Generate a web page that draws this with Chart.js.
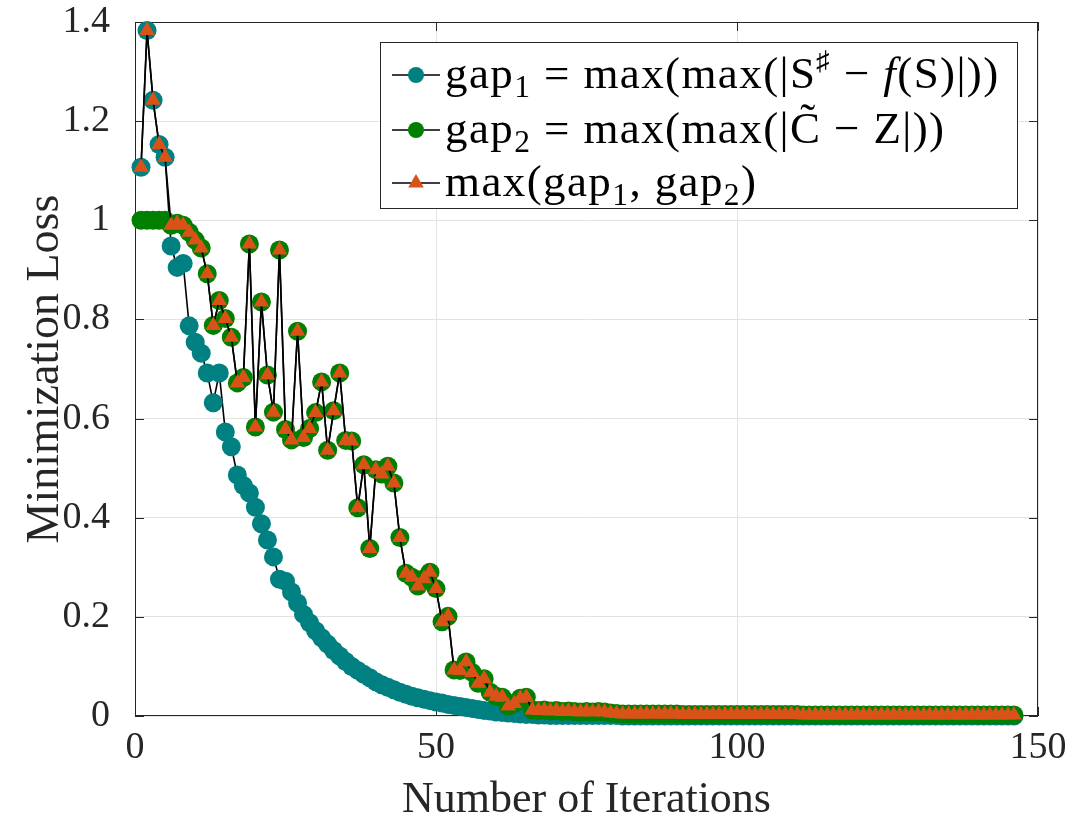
<!DOCTYPE html>
<html>
<head>
<meta charset="utf-8">
<script src="https://cdn.jsdelivr.net/npm/chart.js@4.4.1/dist/chart.umd.min.js"></script>
<style>
  body { margin: 0; background: #fff; }
  #wrap { width: 1074px; height: 827px; }
</style>
</head>
<body>
<div id="wrap"><canvas id="lossChart"></canvas></div>
<script>
// values, iterations 1..146
const gap1 = [
  1.107, 1.383, 1.242, 1.153, 1.127, 0.948, 0.905, 0.913, 0.787, 0.754,
  0.732, 0.692, 0.632, 0.692, 0.573, 0.543, 0.486, 0.465, 0.450, 0.421,
  0.388, 0.355, 0.321, 0.276, 0.272, 0.250, 0.228, 0.205, 0.188, 0.172,
  0.158, 0.145, 0.132, 0.121, 0.110, 0.100, 0.092, 0.084, 0.077, 0.069,
  0.063, 0.058, 0.053, 0.048, 0.044, 0.040, 0.037, 0.034, 0.031, 0.028,
  0.026, 0.023, 0.021, 0.019, 0.017, 0.015, 0.013, 0.011, 0.010, 0.008,
  0.007, 0.006, 0.005, 0.004, 0.003, 0.003, 0.002, 0.002, 0.001, 0.001,
  0.001, 0.001, 0.001, 0.001, 0.001, 0.001, 0.001, 0.001, 0.001, 0.001,
  0, 0, 0, 0, 0, 0, 0, 0, 0, 0,
  0, 0, 0, 0, 0, 0, 0, 0, 0, 0,
  0, 0, 0, 0, 0, 0, 0, 0, 0, 0,
  0, 0, 0, 0, 0, 0, 0, 0, 0, 0,
  0, 0, 0, 0, 0, 0, 0, 0, 0, 0,
  0, 0, 0, 0, 0, 0, 0, 0, 0, 0,
  0, 0, 0, 0, 0, 0
];

const gap2 = [
  1, 1, 1, 1, 1, 0.990, 0.994, 0.990, 0.976, 0.960,
  0.944, 0.892, 0.788, 0.838, 0.802, 0.764, 0.672, 0.683, 0.952, 0.583,
  0.835, 0.688, 0.613, 0.940, 0.578, 0.557, 0.776, 0.562, 0.580, 0.612,
  0.674, 0.536, 0.616, 0.692, 0.556, 0.555, 0.420, 0.507, 0.338, 0.497,
  0.488, 0.504, 0.470, 0.360, 0.288, 0.280, 0.262, 0.277, 0.290, 0.257,
  0.190, 0.201, 0.093, 0.092, 0.109, 0.088, 0.066, 0.075, 0.048, 0.040,
  0.038, 0.020, 0.025, 0.036, 0.038, 0.012, 0.011, 0.012, 0.010, 0.011,
  0.009, 0.010, 0.009, 0.008, 0.009, 0.008, 0.009, 0.008, 0.006, 0.005,
  0.004, 0.004, 0.004, 0.004, 0.004, 0.004, 0.004, 0.004, 0.004, 0.004,
  0.003, 0.003, 0.003, 0.003, 0.003, 0.003, 0.003, 0.003, 0.003, 0.003,
  0.003, 0.003, 0.003, 0.003, 0.003, 0.003, 0.003, 0.003, 0.003, 0.003,
  0.002, 0.002, 0.002, 0.002, 0.002, 0.002, 0.002, 0.002, 0.002, 0.002,
  0.002, 0.002, 0.002, 0.002, 0.002, 0.002, 0.002, 0.002, 0.002, 0.002,
  0.002, 0.002, 0.002, 0.002, 0.002, 0.002, 0.002, 0.002, 0.002, 0.002,
  0.002, 0.002, 0.002, 0.002, 0.002, 0.002
];

const gapMax = [
  1.107, 1.383, 1.242, 1.153, 1.127, 0.990, 0.994, 0.990, 0.976, 0.960,
  0.944, 0.892, 0.788, 0.838, 0.802, 0.764, 0.672, 0.683, 0.952, 0.583,
  0.835, 0.688, 0.613, 0.940, 0.578, 0.557, 0.776, 0.562, 0.580, 0.612,
  0.674, 0.536, 0.616, 0.692, 0.556, 0.555, 0.420, 0.507, 0.338, 0.497,
  0.488, 0.504, 0.470, 0.360, 0.288, 0.280, 0.262, 0.277, 0.290, 0.257,
  0.190, 0.201, 0.093, 0.092, 0.109, 0.088, 0.066, 0.075, 0.048, 0.040,
  0.038, 0.020, 0.025, 0.036, 0.038, 0.012, 0.011, 0.012, 0.010, 0.011,
  0.009, 0.010, 0.009, 0.008, 0.009, 0.008, 0.009, 0.008, 0.006, 0.005,
  0.004, 0.004, 0.004, 0.004, 0.004, 0.004, 0.004, 0.004, 0.004, 0.004,
  0.003, 0.003, 0.003, 0.003, 0.003, 0.003, 0.003, 0.003, 0.003, 0.003,
  0.003, 0.003, 0.003, 0.003, 0.003, 0.003, 0.003, 0.003, 0.003, 0.003,
  0.002, 0.002, 0.002, 0.002, 0.002, 0.002, 0.002, 0.002, 0.002, 0.002,
  0.002, 0.002, 0.002, 0.002, 0.002, 0.002, 0.002, 0.002, 0.002, 0.002,
  0.002, 0.002, 0.002, 0.002, 0.002, 0.002, 0.002, 0.002, 0.002, 0.002,
  0.002, 0.002, 0.002, 0.002, 0.002, 0.002
];

const xTicks = [0, 50, 100, 150];
const yTicks = [0, 0.2, 0.4, 0.6, 0.8, 1, 1.2, 1.4];

// legend labels, split in runs: [text, kind]
const legendLabels = [
  [["gap", ""], ["1", "sub"], [" = max(max(|S", ""], ["\u266F", "sup"], [" \u2212 ", ""], ["f", "it"], ["(S)|))", ""]],
  [["gap", ""], ["2", "sub"], [" = max(max(|C\u0303 \u2212 Z|))", ""]],
  [["max(gap", ""], ["1", "sub"], [", gap", ""], ["2", "sub"], [")", ""]]
];

const iterations = gap1.map((v, i) => i + 1);
const toPoints = arr => arr.map((v, i) => ({ x: iterations[i], y: v }));

const axisColor = "#262626";
const serif = '"Liberation Serif", "DejaVu Serif", serif';

// box around the axes with inward ticks, like the original figure
const frameBox = {
  id: "frameBox",
  beforeDatasetsDraw(chart) {
    const { ctx, chartArea: a, scales } = chart;
    const tl = 9;
    ctx.save();
    ctx.strokeStyle = axisColor;
    ctx.lineWidth = 1;
    ctx.strokeRect(a.left + 0.5, a.top + 0.5, a.width - 1, a.height - 1);
    ctx.beginPath();
    scales.x.ticks.forEach(t => {
      const px = Math.round(scales.x.getPixelForValue(t.value)) + 0.5;
      ctx.moveTo(px, a.bottom); ctx.lineTo(px, a.bottom - tl);
      ctx.moveTo(px, a.top); ctx.lineTo(px, a.top + tl);
    });
    scales.y.ticks.forEach(t => {
      const py = Math.round(scales.y.getPixelForValue(t.value)) + 0.5;
      ctx.moveTo(a.left, py); ctx.lineTo(a.left + tl, py);
      ctx.moveTo(a.right, py); ctx.lineTo(a.right - tl, py);
    });
    ctx.stroke();
    ctx.restore();
  }
};

function drawMarker(ctx, style, color, x, y, r) {
  ctx.fillStyle = color;
  ctx.beginPath();
  if (style === "triangle") {
    ctx.moveTo(x, y - r);
    ctx.lineTo(x + r * 0.866, y + r * 0.5);
    ctx.lineTo(x - r * 0.866, y + r * 0.5);
    ctx.closePath();
  } else {
    ctx.arc(x, y, r, 0, Math.PI * 2);
  }
  ctx.fill();
}

const mathLegend = {
  id: "mathLegend",
  afterDraw(chart, args, opts) {
    const ctx = chart.ctx;
    ctx.save();
    ctx.fillStyle = "#fff";
    ctx.fillRect(opts.left, opts.top, opts.width, opts.height);
    ctx.strokeStyle = axisColor;
    ctx.lineWidth = 1;
    ctx.strokeRect(opts.left + 0.5, opts.top + 0.5, opts.width, opts.height);

    chart.data.datasets.forEach((ds, i) => {
      const cy = opts.rowY[i];
      ctx.strokeStyle = "#000";
      ctx.lineWidth = 1.5;
      ctx.beginPath();
      ctx.moveTo(opts.left + 12, cy);
      ctx.lineTo(opts.left + 60, cy);
      ctx.stroke();
      drawMarker(ctx, ds.pointStyle, ds.pointBackgroundColor, opts.left + 36, cy,
        ds.pointStyle === "triangle" ? 9 : 8);

      let x = opts.left + 65;
      const base = cy + opts.baseShift;
      ctx.fillStyle = "#000";
      ctx.textBaseline = "alphabetic";
      if ("letterSpacing" in ctx) ctx.letterSpacing = opts.spacing + "px";
      legendLabels[i].forEach(([txt, kind]) => {
        let fs = opts.size, dy = 0, st = "";
        if (kind === "sub") { fs = opts.size * 0.7; dy = opts.size * 0.2; }
        if (kind === "sup") { fs = opts.size * 0.6; dy = -opts.size * 0.4; }
        if (kind === "it") st = "italic ";
        ctx.font = st + fs + "px " + serif;
        ctx.fillText(txt, x, base + dy);
        x += ctx.measureText(txt).width;
      });
    });
    ctx.restore();
  }
};

const data = {
  datasets: [
    {
      label: "gap1",
      data: toPoints(gap1),
      order: 3,
      borderColor: "#000",
      borderWidth: 1.6,
      pointStyle: "circle",
      pointRadius: 9.5,
      pointBackgroundColor: "#008080",
      pointBorderWidth: 0,
      clip: false
    },
    {
      label: "gap2",
      data: toPoints(gap2),
      order: 2,
      borderColor: "#000",
      borderWidth: 1.6,
      pointStyle: "circle",
      pointRadius: 9.5,
      pointBackgroundColor: "#007f00",
      pointBorderWidth: 0,
      clip: false
    },
    {
      label: "max(gap1, gap2)",
      data: toPoints(gapMax),
      order: 1,
      borderColor: "#000",
      borderWidth: 1.6,
      pointStyle: "triangle",
      pointRadius: 9,
      pointBackgroundColor: "#d95319",
      pointBorderWidth: 0,
      clip: false
    }
  ]
};

const config = {
  type: "line",
  data: data,
  options: {
    responsive: true,
    maintainAspectRatio: false,
    animation: false,
    events: [],
    layout: { padding: { top: 22, right: 36, left: 0, bottom: 0 } },
    scales: {
      x: {
        type: "linear",
        min: 0,
        max: 150,
        afterBuildTicks: s => { s.ticks = xTicks.map(v => ({ value: v })); },
        afterFit: s => { s.height = 111; s.paddingLeft = 0; s.paddingRight = 0; },
        border: { display: false },
        grid: { color: "#e3e3e3", drawTicks: false },
        ticks: {
          color: axisColor,
          padding: 9,
          font: { family: serif, size: 38 },
          callback: v => String(v)
        },
        title: {
          display: true,
          text: "Number of Iterations",
          color: axisColor,
          font: { family: serif, size: 44 },
          padding: { top: 0, bottom: 0 }
        }
      },
      y: {
        min: 0,
        max: 1.4,
        afterBuildTicks: s => { s.ticks = yTicks.map(v => ({ value: v })); },
        afterFit: s => { s.width = 135; s.paddingTop = 0; s.paddingBottom = 0; },
        border: { display: false },
        grid: { color: "#e3e3e3", drawTicks: false },
        ticks: {
          color: axisColor,
          padding: 25,
          font: { family: serif, size: 38 },
          callback: v => String(v)
        },
        title: {
          display: true,
          text: "Minimization Loss",
          color: axisColor,
          font: { family: serif, size: 46 },
          padding: { top: 18, bottom: 0 }
        }
      }
    },
    plugins: {
      legend: { display: false },
      tooltip: { enabled: false },
      mathLegend: {
        left: 380, top: 42, width: 637, height: 166,
        rowY: [75, 130, 183],
        baseShift: 13,
        size: 45,
        spacing: 1.4
      }
    }
  },
  plugins: [frameBox, mathLegend]
};

const ctx1 = document.getElementById("lossChart");
const chart1 = new Chart(ctx1, config);
</script>
</body>
</html>
